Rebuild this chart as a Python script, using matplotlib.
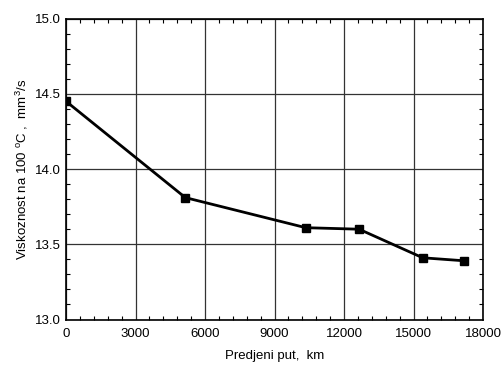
import matplotlib
matplotlib.use('Agg')
import matplotlib.pyplot as plt
from matplotlib.ticker import MultipleLocator

plt.rcParams['font.family'] = ['Liberation Sans', 'DejaVu Sans']
plt.rcParams['mathtext.fontset'] = 'custom'
plt.rcParams['mathtext.rm'] = 'Liberation Sans'

# predjeni put (km) i viskoznost (mm2/s)
put_km = [0, 5150, 10350, 12650, 15400, 17200]
viskoznost = [14.45, 13.81, 13.61, 13.60, 13.41, 13.39]

fig = plt.figure(figsize=(5.02, 3.65), dpi=100)
ax = fig.add_axes([66/502, 1 - 319.5/365, (483 - 66)/502, (319.5 - 18.5)/365])

ax.plot(put_km, viskoznost, color='black', lw=2, marker='s', ms=5.5, zorder=3)

ax.set_xlim(0, 18000)
ax.set_ylim(13.0, 15.0)
ax.xaxis.set_major_locator(MultipleLocator(3000))
ax.xaxis.set_minor_locator(MultipleLocator(600))
ax.yaxis.set_major_locator(MultipleLocator(0.5))
ax.yaxis.set_minor_locator(MultipleLocator(0.1))
ax.yaxis.set_major_formatter(plt.FormatStrFormatter('%.1f'))

ax.grid(True, which='major', color='#333333', lw=0.9)
ax.tick_params(which='both', direction='in', top=True, right=True, labelsize=9.5)
ax.tick_params(axis='x', which='major', length=0, pad=6)
ax.tick_params(axis='y', which='major', length=0, pad=4)
ax.tick_params(which='minor', length=3, width=0.8)
for s in ax.spines.values():
    s.set_linewidth(1.2)

ax.set_xlabel('Predjeni put,  km', fontsize=9.5, labelpad=7)
ax.set_ylabel('Viskoznost na 100 $^{\\mathregular{o}}$C ,  mm$^{\\mathregular{3}}$/s', fontsize=9.5, labelpad=3)

fig.savefig('out.png', dpi=100)
